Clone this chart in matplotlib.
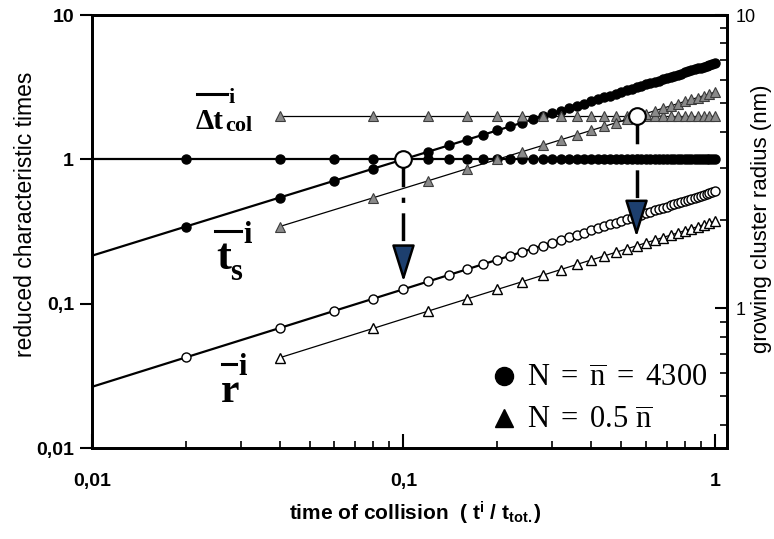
import matplotlib
matplotlib.use("Agg")
import matplotlib.pyplot as plt
from matplotlib.lines import Line2D
from matplotlib.ticker import FixedLocator, NullLocator, LogLocator, NullFormatter

plt.rcParams['font.family'] = ['Liberation Sans', 'DejaVu Sans']
plt.rcParams['mathtext.fontset'] = 'custom'
plt.rcParams['mathtext.rm'] = 'Liberation Serif'
plt.rcParams['mathtext.it'] = 'Liberation Serif:italic'
plt.rcParams['mathtext.bf'] = 'Liberation Serif:bold'
plt.rcParams['mathtext.sf'] = 'Liberation Sans:bold'

# N = n = 4300 (circles), time of collision t/t_tot
x_circ = [0.01, 0.02, 0.04, 0.06, 0.08, 0.10, 0.12, 0.14, 0.16, 0.18, 0.20,
          0.22, 0.24, 0.26, 0.28, 0.30, 0.32, 0.34, 0.36, 0.38, 0.40,
          0.42, 0.44, 0.46, 0.48, 0.50, 0.52, 0.54, 0.56, 0.58, 0.60,
          0.62, 0.64, 0.66, 0.68, 0.70, 0.72, 0.74, 0.76, 0.78, 0.80,
          0.82, 0.84, 0.86, 0.88, 0.90, 0.92, 0.94, 0.96, 0.98, 1.00]
ts_circ = [0.215, 0.342, 0.543, 0.711, 0.862, 1.000, 1.129, 1.251, 1.368, 1.479, 1.587,
           1.691, 1.792, 1.890, 1.986, 2.080, 2.171, 2.260, 2.348, 2.435, 2.520,
           2.603, 2.684, 2.765, 2.845, 2.924, 3.000, 3.077, 3.152, 3.227, 3.301,
           3.374, 3.446, 3.517, 3.588, 3.658, 3.728, 3.797, 3.865, 3.932, 3.999,
           4.065, 4.131, 4.196, 4.260, 4.326, 4.389, 4.452, 4.516, 4.578, 4.640]
dt_circ = [1.0, 1.0, 1.0, 1.0, 1.0, 1.0, 1.0, 1.0, 1.0, 1.0, 1.0,
           1.0, 1.0, 1.0, 1.0, 1.0, 1.0, 1.0, 1.0, 1.0, 1.0,
           1.0, 1.0, 1.0, 1.0, 1.0, 1.0, 1.0, 1.0, 1.0, 1.0,
           1.0, 1.0, 1.0, 1.0, 1.0, 1.0, 1.0, 1.0, 1.0, 1.0,
           1.0, 1.0, 1.0, 1.0, 1.0, 1.0, 1.0, 1.0, 1.0, 1.0]
r_circ = [0.539, 0.679, 0.855, 0.979, 1.077, 1.160, 1.233, 1.298, 1.357, 1.412, 1.462,
          1.509, 1.554, 1.596, 1.635, 1.674, 1.710, 1.745, 1.779, 1.811, 1.842,
          1.872, 1.901, 1.930, 1.957, 1.984, 2.010, 2.036, 2.061, 2.085, 2.109,
          2.132, 2.155, 2.177, 2.198, 2.220, 2.241, 2.261, 2.282, 2.301, 2.321,
          2.340, 2.359, 2.377, 2.396, 2.414, 2.431, 2.449, 2.466, 2.483, 2.500]

# N = 0.5 n (triangles)
x_tri = [0.04, 0.08, 0.12, 0.16, 0.20, 0.24, 0.28, 0.32, 0.36, 0.40, 0.44, 0.48,
         0.52, 0.56, 0.60, 0.64, 0.68, 0.72, 0.76, 0.80, 0.84, 0.88, 0.92, 0.96, 1.00]
ts_tri = [0.342, 0.542, 0.710, 0.861, 0.999, 1.128, 1.249, 1.366, 1.478, 1.585, 1.689, 1.790,
          1.888, 1.984, 2.077, 2.169, 2.258, 2.346, 2.432, 2.517, 2.599, 2.681, 2.762, 2.842, 2.920]
dt_tri = [2.0, 2.0, 2.0, 2.0, 2.0, 2.0, 2.0, 2.0, 2.0, 2.0, 2.0, 2.0,
          2.0, 2.0, 2.0, 2.0, 2.0, 2.0, 2.0, 2.0, 2.0, 2.0, 2.0, 2.0, 2.0]
r_tri = [0.677, 0.853, 0.977, 1.075, 1.158, 1.230, 1.295, 1.354, 1.409, 1.459, 1.506, 1.550,
         1.592, 1.632, 1.670, 1.706, 1.741, 1.775, 1.807, 1.838, 1.868, 1.897, 1.926, 1.953, 1.980]

# crossing points ts = dt and the arrows pointing down to the radius curves
cross_x = [0.1, 0.56]
cross_y = [1.0, 2.0]
arrow_top = [0.237, 0.464]
arrow_tip = [0.142, 0.29]

fig = plt.figure(figsize=(7.74, 5.39), dpi=100)
ax = fig.add_axes([92 / 774, 1 - 448 / 539, 635 / 774, 433 / 539])
ax2 = ax.twinx()
ax.set_zorder(2)
ax.patch.set_visible(False)

ax.plot(x_circ, dt_circ, color='k', lw=1.6, marker='o', ms=6.5, mfc='k', mec='k',
        markevery=slice(1, None))
ax.plot(x_circ, ts_circ, color='k', lw=1.6, marker='o', ms=6.5, mfc='k', mec='k',
        markevery=slice(1, None))
ax.plot(x_tri, dt_tri, color='k', lw=0.9, marker='^', ms=7.5, mfc='#8a8a8a', mec='#3c3c3c', mew=0.8)
ax.plot(x_tri, ts_tri, color='k', lw=0.9, marker='^', ms=7.5, mfc='#8a8a8a', mec='#3c3c3c', mew=0.8)

ax2.plot(x_circ, r_circ, color='k', lw=1.6, marker='o', ms=6.5, mfc='white', mec='k', mew=1,
         markevery=slice(1, None))
ax2.plot(x_tri, r_tri, color='k', lw=0.9, marker='^', ms=7.5, mfc='white', mec='k', mew=1)

for i in range(2):
    ax.plot([cross_x[i], cross_x[i]], [cross_y[i], arrow_top[i]], color='k', lw=2.5,
            ls=(0, (8, 3, 1.5, 3)), zorder=5)
    ax.annotate('', xy=(cross_x[i], arrow_tip[i]), xytext=(cross_x[i], arrow_top[i]),
                arrowprops=dict(arrowstyle='-|>,head_length=1.15,head_width=0.36',
                                mutation_scale=20, fc='#1d3f6e', ec='k', lw=1.8,
                                shrinkA=0, shrinkB=0), zorder=7)
ax.plot(cross_x, cross_y, 'o', ms=12, mfc='white', mec='k', mew=1.5, zorder=6)

ax.set_xscale('log')
ax.set_yscale('log')
ax.set_xlim(0.01, 1.093)
ax.set_ylim(0.01, 10)
ax2.set_yscale('log')
ax2.set_ylim(1 / 3, 10)

ax.xaxis.set_major_locator(FixedLocator([0.01, 0.1, 1]))
ax.set_xticklabels(['0,01', '0,1', '1'], fontweight='bold', fontsize=14)
ax.xaxis.set_minor_locator(LogLocator(subs=range(2, 10)))
ax.xaxis.set_minor_formatter(NullFormatter())
ax.tick_params(axis='x', which='major', direction='in', length=10, width=1.5, pad=18)
ax.tick_params(axis='x', which='minor', direction='in', length=5, width=1.2)

ax.yaxis.set_major_locator(FixedLocator([0.01, 0.1, 1, 10]))
ax.set_yticklabels(['0,01', '0,1', '1', '10'], fontweight='bold', fontsize=14)
ax.yaxis.set_minor_locator(NullLocator())
ax.tick_params(axis='y', which='major', direction='out', length=9, width=1.5, pad=4)

ax2.yaxis.set_major_locator(FixedLocator([1, 10]))
ax2.set_yticklabels(['1', '10'], fontsize=13)
ax2.yaxis.set_minor_locator(LogLocator(subs=range(2, 10)))
ax2.yaxis.set_minor_formatter(NullFormatter())
ax2.tick_params(axis='y', which='major', direction='in', length=9, width=1.5, pad=6)
ax2.tick_params(axis='y', which='minor', direction='in', length=5, width=1.2)

for a in (ax, ax2):
    for s in a.spines.values():
        s.set_linewidth(2)

ax.set_ylabel('reduced characteristic times', fontsize=16.5)
ax.yaxis.set_label_coords(-0.086, 0.54)
ax2.set_ylabel('growing cluster radius (nm)', fontsize=16)
ax2.yaxis.set_label_coords(1.038, 0.53)
ax.set_xlabel(r'time of collision  ( t$^{\mathsf{i}}$ / t$_{\mathsf{tot.}}$)', fontsize=15,
              fontweight='bold')
ax.xaxis.set_label_coords(0.51, -0.12)


# curve labels, placed in figure pixels
def px(x, y):
    return x / 774, 1 - y / 539


def bar(x0, x1, y):
    (a0, b0), (a1, b1) = px(x0, y), px(x1, y)
    fig.add_artist(Line2D([a0, a1], [b0, b1], color='k', lw=2.2, transform=fig.transFigure))


serif = dict(family='Liberation Serif', fontweight='bold', va='baseline', ha='left')
fig.text(*px(196, 129), 'Δt', fontsize=21, **serif)
fig.text(*px(225, 131), 'col', fontsize=16, **serif)
fig.text(*px(228, 103), 'i', fontsize=16, **serif)
bar(197, 227, 94)

fig.text(*px(216, 269), 't', fontsize=32, **serif)
fig.text(*px(230, 280), 's', fontsize=22, **serif)
fig.text(*px(243, 243), 'i', fontsize=22, **serif)
bar(215, 241, 231)

fig.text(*px(221, 402), 'r', fontsize=30, **serif)
fig.text(*px(238, 375), 'i', fontsize=22, **serif)
bar(222, 236, 364)

handles = [Line2D([], [], marker='o', color='k', ls='none', ms=13),
           Line2D([], [], marker='^', color='k', ls='none', ms=13)]
labels = [r'$\mathrm{N}\ =\ \overline{\mathrm{n}}\ =\ 4300$',
          r'$\mathrm{N}\ =\ 0.5\ \overline{\mathrm{n}}$']
ax.legend(handles, labels, loc='upper left', bbox_to_anchor=(0.63, 0.195), fontsize=22,
          frameon=False, handlelength=0.8, handletextpad=0.35, borderpad=0,
          borderaxespad=0, labelspacing=0.4)

fig.savefig('out.png', dpi=100)
